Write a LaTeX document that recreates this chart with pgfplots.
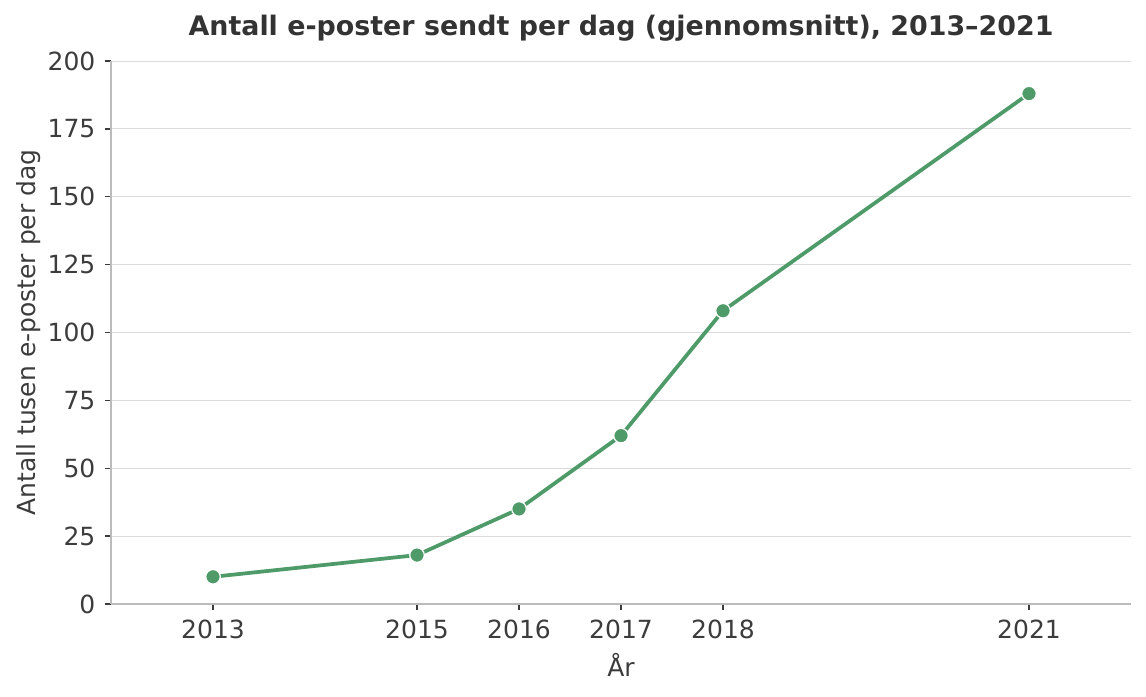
\documentclass[border=0pt]{standalone}
\usepackage{pgfplots}
\pgfplotsset{compat=1.18}
\usepackage{fontspec}
\setmainfont{DejaVu Sans}
\definecolor{linegreen}{RGB}{78,154,104}
\definecolor{txt}{RGB}{60,60,60}
\definecolor{spine}{RGB}{187,187,187}
\definecolor{gridc}{RGB}{218,218,218}
\begin{document}
\begin{tikzpicture}
\useasboundingbox (-53.3pt,-44.2pt) rectangle (496.8pt,289.9pt);
\begin{axis}[
  at={(0,0)}, anchor=origin,
  scale only axis,
  width=489.6pt, height=260.6pt,
  xmin=2012, xmax=2022,
  ymin=0, ymax=200,
  xtick={2013,2015,2016,2017,2018,2021},
  ytick={0,25,50,75,100,125,150,175,200},
  /pgf/number format/1000 sep={},
  /pgf/number format/assume math mode=true,
  axis x line*=bottom, axis y line*=left,
  axis line style={spine, line width=0.6pt, -},
  tick align=outside, major tick length=3pt,
  tick style={txt, line width=0.6pt},
  ymajorgrids, grid style={gridc, line width=0.5pt},
  tick label style={font=\fontsize{12}{14}\selectfont, text=txt},
  yticklabel style={xshift=-1pt},
  xticklabel style={yshift=-1pt},
  xlabel={År}, ylabel={Antall tusen e-poster per dag},
  label style={font=\fontsize{12}{14}\selectfont, text=txt},
  xlabel style={yshift=0pt},
  ylabel style={yshift=-3.5pt},
  title={\bfseries Antall e-poster sendt per dag (gjennomsnitt), 2013–2021},
  title style={font=\fontsize{12.9}{15}\selectfont, text=black!80, yshift=0pt},
  clip=false,
]
\addplot[linegreen, line width=1.8pt, mark=*,
  mark options={fill=linegreen, draw=white, line width=0.6pt, scale=1.75}]
  coordinates {(2013,10)(2015,18)(2016,35)(2017,62)(2018,108)(2021,188)};
\end{axis}
\end{tikzpicture}
\end{document}
